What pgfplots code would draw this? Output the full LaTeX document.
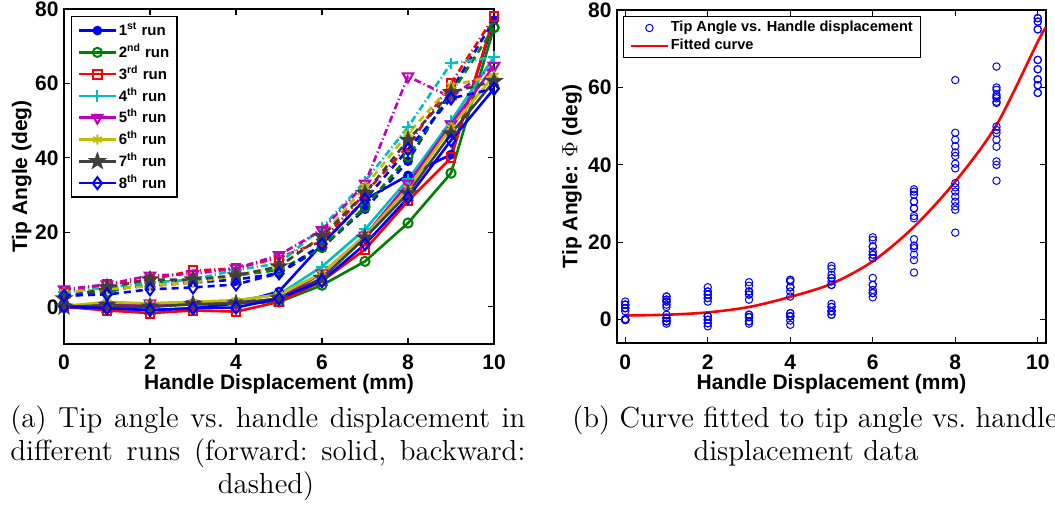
\documentclass[border=0pt]{standalone}
\usepackage{fontspec}
\usepackage{pgfplots}
\pgfplotsset{compat=1.18}
\usepackage{pgfplotstable}
\newfontfamily\arialf{Liberation Sans}
\newcommand\capfont{\rmfamily\frenchspacing\fontsize{14.5}{16.5}\selectfont}
\newcommand\axfont{\arialf\bfseries\fontsize{10.5}{12}\selectfont}

\definecolor{mblue}{rgb}{0,0,1}
\definecolor{mgreen}{rgb}{0,0.5,0}
\definecolor{mred}{rgb}{1,0,0}
\definecolor{mcyan}{rgb}{0,0.75,0.75}
\definecolor{mmag}{rgb}{0.75,0,0.75}
\definecolor{myel}{rgb}{0.75,0.75,0}
\definecolor{mgray}{rgb}{0.25,0.25,0.25}

\pgfdeclareplotmark{pentagram}{%
 \pgfpathmoveto{\pgfpointpolar{90}{\pgfplotmarksize}}%
 \pgfpathlineto{\pgfpointpolar{126}{0.4\pgfplotmarksize}}%
 \pgfpathlineto{\pgfpointpolar{162}{\pgfplotmarksize}}%
 \pgfpathlineto{\pgfpointpolar{198}{0.4\pgfplotmarksize}}%
 \pgfpathlineto{\pgfpointpolar{234}{\pgfplotmarksize}}%
 \pgfpathlineto{\pgfpointpolar{270}{0.4\pgfplotmarksize}}%
 \pgfpathlineto{\pgfpointpolar{306}{\pgfplotmarksize}}%
 \pgfpathlineto{\pgfpointpolar{342}{0.4\pgfplotmarksize}}%
 \pgfpathlineto{\pgfpointpolar{18}{\pgfplotmarksize}}%
 \pgfpathlineto{\pgfpointpolar{54}{0.4\pgfplotmarksize}}%
 \pgfpathclose\pgfusepathqfillstroke}

\pgfplotstableread{
x f1 b1 f2 b2 f3 b3 f4 b4 f5 b5 f6 b6 f7 b7 f8 b8
0 0 3.0 0 3.0 0 3.9 0 3.9 0 4.7 0.2 3.9 0 2.2 0 3.0
1 -0.4 4.7 -0.4 3.9 -1.0 6.0 0.4 5.2 0.4 6.0 1.3 4.7 0.4 5.2 -0.4 3.3
2 -0.9 5.6 0 6.5 -1.7 7.3 0.9 6.5 0.9 8.4 0.9 5.6 0 7.3 -0.9 4.7
3 -0.4 6.5 0.7 7.3 -1.0 9.7 1.3 7.3 0.7 8.8 1.3 6.5 0.7 7.3 -0.4 5.2
4 0.9 7.3 0.9 8.4 -1.3 10.3 1.7 9.9 0.9 10.3 1.7 8.4 0.9 8.4 -0.2 6.0
5 4.1 9.0 1.3 9.9 1.3 13.2 3.3 11.6 2.2 13.9 3.3 10.8 2.2 10.8 2.2 9.0
6 16.8 15.9 5.8 15.9 6.9 17.6 10.8 21.3 9.0 20.6 9.0 18.9 7.7 18.9 6.9 16.8
7 28.8 26.2 12.2 26.8 15.4 30.5 20.8 33.7 19.1 33.1 19.1 32.3 18.5 30.5 16.8 28.8
8 35.3 39.1 22.5 40.3 28.4 43.2 34.2 48.3 33.1 61.9 31.8 46.5 30.5 44.8 29.3 42.3
9 40.9 58.1 35.9 57.2 40.0 60.0 49.9 65.4 49.0 56.3 48.2 59.4 46.5 57.6 44.7 56.0
10 77.0 77.0 75.0 75.0 77.9 77.9 67.1 67.1 64.7 64.7 62.1 62.1 60.6 60.6 58.6 58.6
}\runs

\pgfplotsset{
 mystyle/.style={
  scale only axis,
  label style={font=\axfont},
  tick label style={font=\axfont},
  /pgf/number format/assume math mode=true,
  tick align=inside,
  major tick length=3pt,
  axis line style={line width=0.9pt},
  every tick/.style={black, line width=0.6pt},
  xtick={0,2,...,10}, ytick={0,20,...,80},
  xticklabel style={anchor=base, yshift=-13pt},
  yticklabel style={anchor=east, inner sep=0pt, xshift=-2.5pt},
  legend image code/.code={\draw[mark repeat=2,mark phase=2] plot coordinates {(0pt,0pt) (9.25pt,0pt) (18.5pt,0pt)};},
 },
 mo/.style={mark options={solid, line width=1pt}},
 r1/.style={color=mblue, mark=*, mark size=1.9pt, mo},
 r2/.style={color=mgreen, mark=o, mark size=2.3pt, mo},
 r3/.style={color=mred, mark=square, mark size=2.2pt, mo},
 r4/.style={color=mcyan, mark=+, mark size=2.9pt, mo},
 r5/.style={color=mmag, mark=triangle, mark size=3pt, mark options={solid, line width=1pt, rotate=180}},
 r6/.style={color=myel, mark=asterisk, mark size=2.5pt, mo},
 r7/.style={color=mgray, mark=pentagram, mark size=3.5pt, mo},
 r8/.style={color=mblue, mark=diamond, mark size=3pt, mo},
 fw/.style={solid, line width=1.3pt},
 bw/.style={line width=1.3pt, dash pattern=on 3.5pt off 2.5pt, forget plot},
 bwd/.style={line width=1.3pt, dash pattern=on 3.5pt off 1.5pt on 0.6pt off 1.5pt, forget plot},
}

\begin{document}
\begin{tikzpicture}
\useasboundingbox (0,0) rectangle (527.5pt,257pt);

\begin{axis}[mystyle,
  at={(32pt,85pt)}, anchor=south west, width=215pt, height=167.5pt,
  xmin=0, xmax=10, ymin=-10, ymax=80,
  xlabel={Handle Displacement (mm)}, ylabel={Tip Angle (deg)},
  xlabel style={at={(axis description cs:0.5,-0.136)}, anchor=base},
  ylabel style={at={(axis description cs:-0.098,0.5)}, anchor=center},
  legend style={at={(axis description cs:0.0163,0.979)}, anchor=north west,
    font=\arialf\bfseries\fontsize{7.5}{8}\selectfont, draw=black, line width=0.6pt,
    inner xsep=3pt, inner ysep=1.5pt, row sep=0pt,
    nodes={inner sep=0.8pt, text height=7.2pt, text depth=2.1pt},
    cells={anchor=west}},
]
\addplot[r1, fw] table[x=x, y=f1]{\runs};
\addlegendentry{1\textsuperscript{st} run}
\addplot[r2, fw] table[x=x, y=f2]{\runs};
\addlegendentry{2\textsuperscript{nd} run}
\addplot[r3, fw] table[x=x, y=f3]{\runs};
\addlegendentry{3\textsuperscript{rd} run}
\addplot[r4, fw] table[x=x, y=f4]{\runs};
\addlegendentry{4\textsuperscript{th} run}
\addplot[r5, fw] table[x=x, y=f5]{\runs};
\addlegendentry{5\textsuperscript{th} run}
\addplot[r6, fw] table[x=x, y=f6]{\runs};
\addlegendentry{6\textsuperscript{th} run}
\addplot[r7, fw] table[x=x, y=f7]{\runs};
\addlegendentry{7\textsuperscript{th} run}
\addplot[r8, fw] table[x=x, y=f8]{\runs};
\addlegendentry{8\textsuperscript{th} run}
\addplot[r1, bw] table[x=x, y=b1]{\runs};
\addplot[r2, bw] table[x=x, y=b2]{\runs};
\addplot[r3, bwd] table[x=x, y=b3]{\runs};
\addplot[r4, bwd] table[x=x, y=b4]{\runs};
\addplot[r5, bwd] table[x=x, y=b5]{\runs};
\addplot[r6, bw] table[x=x, y=b6]{\runs};
\addplot[r7, bw] table[x=x, y=b7]{\runs};
\addplot[r8, bw] table[x=x, y=b8]{\runs};
\end{axis}

\begin{axis}[mystyle,
  at={(308.5pt,85.5pt)}, anchor=south west, width=214.5pt, height=166.5pt,
  xmin=-0.2, xmax=10.2, ymin=-6, ymax=80,
  xlabel={Handle Displacement (mm)}, ylabel={Tip Angle: $\Phi$ (deg)},
  xlabel style={at={(axis description cs:0.5,-0.140)}, anchor=base},
  ylabel style={at={(axis description cs:-0.105,0.5)}, anchor=center},
  legend style={at={(axis description cs:0.014,0.982)}, anchor=north west,
    font=\arialf\bfseries\fontsize{7.3}{8}\selectfont, draw=black, line width=0.6pt,
    inner xsep=3pt, inner ysep=1.2pt, row sep=0pt,
    nodes={inner sep=0.8pt, text height=5.5pt, text depth=1.9pt},
    cells={anchor=west}},
  scat/.style={only marks, mark=o, mark size=1.85pt, color=mblue, mark options={line width=0.5pt}},
]
\addplot[scat] table[x=x, y=f1]{\runs};
\addlegendentry{Tip Angle vs. Handle displacement}
\addplot[red, line width=1.3pt, smooth] coordinates {
 (0,1.1) (1,1.3) (2,1.9) (3,3.3) (4,5.9) (5,9.3) (6,15.1) (7,24.0) (8,35.7) (9,50.3) (10,71.8) (10.2,75.5)};
\addlegendentry{Fitted curve}
\addplot[scat, forget plot] table[x=x, y=b1]{\runs};
\addplot[scat, forget plot] table[x=x, y=f2]{\runs};
\addplot[scat, forget plot] table[x=x, y=b2]{\runs};
\addplot[scat, forget plot] table[x=x, y=f3]{\runs};
\addplot[scat, forget plot] table[x=x, y=b3]{\runs};
\addplot[scat, forget plot] table[x=x, y=f4]{\runs};
\addplot[scat, forget plot] table[x=x, y=b4]{\runs};
\addplot[scat, forget plot] table[x=x, y=f5]{\runs};
\addplot[scat, forget plot] table[x=x, y=b5]{\runs};
\addplot[scat, forget plot] table[x=x, y=f6]{\runs};
\addplot[scat, forget plot] table[x=x, y=b6]{\runs};
\addplot[scat, forget plot] table[x=x, y=f7]{\runs};
\addplot[scat, forget plot] table[x=x, y=b7]{\runs};
\addplot[scat, forget plot] table[x=x, y=f8]{\runs};
\addplot[scat, forget plot] table[x=x, y=b8]{\runs};
\end{axis}

\node[anchor=base west, inner sep=0pt] at (5pt,43.25pt) {\capfont\makebox[257.5pt][s]{(a) Tip angle vs.\ handle displacement in}};
\node[anchor=base west, inner sep=0pt] at (5pt,26.75pt) {\capfont\makebox[257.5pt][s]{different runs (forward: solid, backward:}};
\node[anchor=base, inner sep=0pt] at (133pt,10.25pt) {\capfont dashed)};
\node[anchor=base west, inner sep=0pt] at (286pt,43.25pt) {\capfont (b) Curve fitted to tip angle vs.\ handle};
\node[anchor=base, inner sep=0pt] at (403pt,26.75pt) {\capfont displacement data};
\end{tikzpicture}
\end{document}
